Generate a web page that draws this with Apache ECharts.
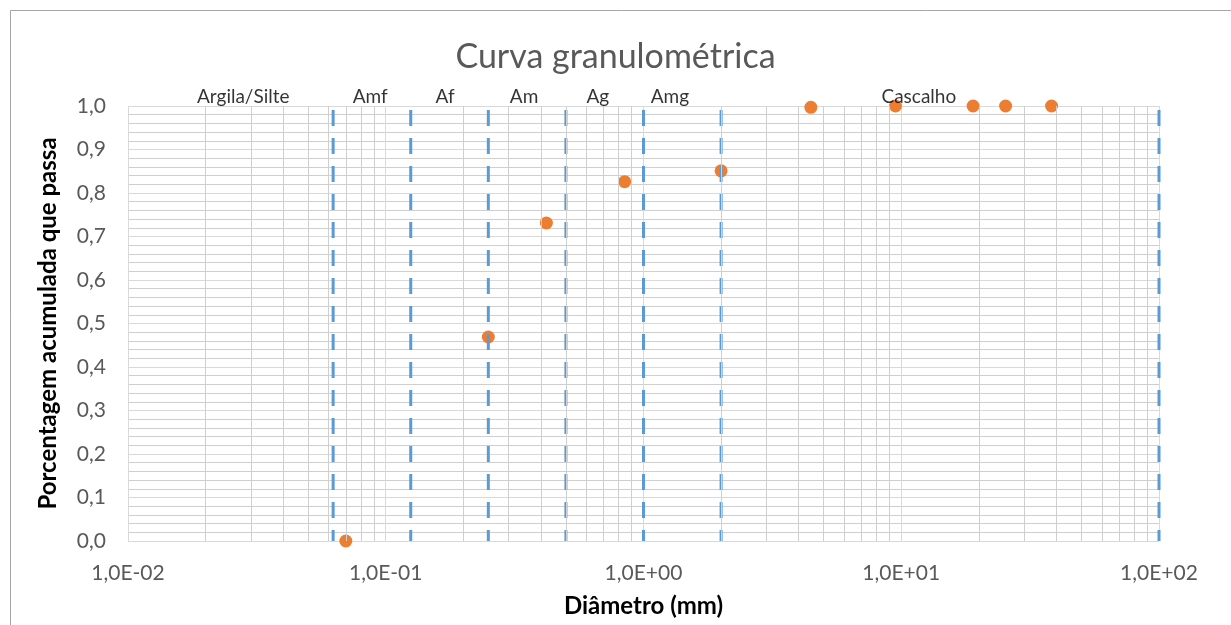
<!DOCTYPE html>
<html>
<head>
<meta charset="utf-8">
<script src="https://cdn.jsdelivr.net/npm/echarts@6/dist/echarts.min.js"></script>
<style>html,body{margin:0;padding:0;background:#fff;}#c{width:1231px;height:625px;}</style>
</head>
<body>
<div id="c"></div>
<script>
// Data: diameter (mm) vs cumulative passing fraction
const diameters = [0.07, 0.25, 0.42, 0.845, 2.0, 4.46, 9.5, 19.0, 25.4, 38.3];
const passing   = [0.0, 0.469, 0.731, 0.826, 0.851, 0.997, 1.0, 1.0, 1.0, 1.0];
// Boundaries between soil fractions (mm)
const boundaries = [0.0625, 0.125, 0.25, 0.5, 1, 2, 100];
// Fraction labels and their x position (mm)
const fractionNames = ['Argila/Silte', 'Amf', 'Af', 'Am', 'Ag', 'Amg', 'Cascalho'];
const fractionX     = [0.028, 0.087, 0.17, 0.344, 0.665, 1.266, 11.7];
// Axis extents
const xMin = 0.01, xMax = 100;
const yMin = 0, yMax = 1, yStep = 0.1;

const FONT = 'Lato';
const minorX = [];
for (let e = -2; e < 2; e++) {
  for (let m = 2; m <= 9; m++) minorX.push(+(m * Math.pow(10, e)).toPrecision(3));
}

function expLabel(v) {
  const e = Math.round(Math.log10(v));
  const s = (e < 0 ? '-' : '+') + String(Math.abs(e)).padStart(2, '0');
  return '1,0E' + s;
}

const series = [];
// minor vertical gridlines
series.push({
  type: 'line', data: [], silent: true, z: 1,
  markLine: {
    silent: true, symbol: 'none', animation: false,
    label: { show: false },
    lineStyle: { color: '#cfcfcf', width: 1, type: 'solid' },
    data: minorX.map(v => ({ xAxis: v }))
  }
});
// data points
series.push({
  type: 'scatter', z: 3,
  data: diameters.map((d, i) => [d, passing[i]]),
  symbol: 'circle', symbolSize: 13,
  itemStyle: { color: '#ed7d31', opacity: 1 },
  clip: false
});
// boundary dashed lines
boundaries.forEach(b => {
  series.push({
    type: 'line', z: 4, clip: false, silent: true,
    data: [[b, yMax], [b, yMin]],
    symbol: 'none',
    lineStyle: { color: '#5b9bd5', width: 3, type: [16, 12], dashOffset: -4 }
  });
});
// fraction labels
series.push({
  type: 'scatter', z: 5, clip: false, silent: true,
  data: fractionX.map((x, i) => ({ value: [x, yMax], name: fractionNames[i] })),
  symbolSize: 0,
  label: {
    show: true, position: 'inside', offset: [0, -9],
    formatter: p => p.name,
    color: '#000', fontFamily: FONT, fontSize: 19
  }
});

const chart = echarts.init(document.getElementById('c'));
chart.setOption({
  animation: false,
  backgroundColor: '#fff',
  title: {
    text: 'Curva granulométrica', left: 'center', top: 35,
    textStyle: { color: '#595959', fontFamily: FONT, fontSize: 34, fontWeight: 'normal' }
  },
  graphic: [{
    type: 'rect', shape: { x: 10.5, y: 10.5, width: 1300, height: 800 },
    style: { fill: 'none', stroke: '#a6a6a6', lineWidth: 1 }, silent: true, z: -1
  }],
  grid: { left: 128, right: 72, top: 106, bottom: 84 },
  xAxis: {
    type: 'log', logBase: 10, min: xMin, max: xMax, splitNumber: 4,
    name: 'Diâmetro (mm)', nameLocation: 'middle', nameGap: 53,
    nameTextStyle: { color: '#000', fontFamily: FONT, fontSize: 24, fontWeight: 'bold' },
    axisLine: { show: false }, axisTick: { show: false },
    axisLabel: { formatter: expLabel, color: '#595959', fontFamily: FONT, fontSize: 21, margin: 22 },
    splitLine: { show: true, lineStyle: { color: '#d9d9d9', width: 1 } },
    minorTick: { show: false }, minorSplitLine: { show: false }
  },
  yAxis: {
    type: 'value', min: yMin, max: yMax, interval: yStep,
    name: 'Porcentagem acumulada que passa', nameLocation: 'middle', nameGap: 68,
    nameTextStyle: { color: '#000', fontFamily: FONT, fontSize: 24, fontWeight: 'bold' },
    axisLine: { show: false }, axisTick: { show: false },
    axisLabel: { formatter: v => v.toFixed(1).replace('.', ','), color: '#595959', fontFamily: FONT, fontSize: 21, margin: 22 },
    splitLine: { show: true, lineStyle: { color: '#d9d9d9', width: 1 } },
    minorTick: { show: false, splitNumber: 5 },
    minorSplitLine: { show: true, lineStyle: { color: '#cfcfcf', width: 1 } }
  },
  series: series
});
</script>
</body>
</html>
